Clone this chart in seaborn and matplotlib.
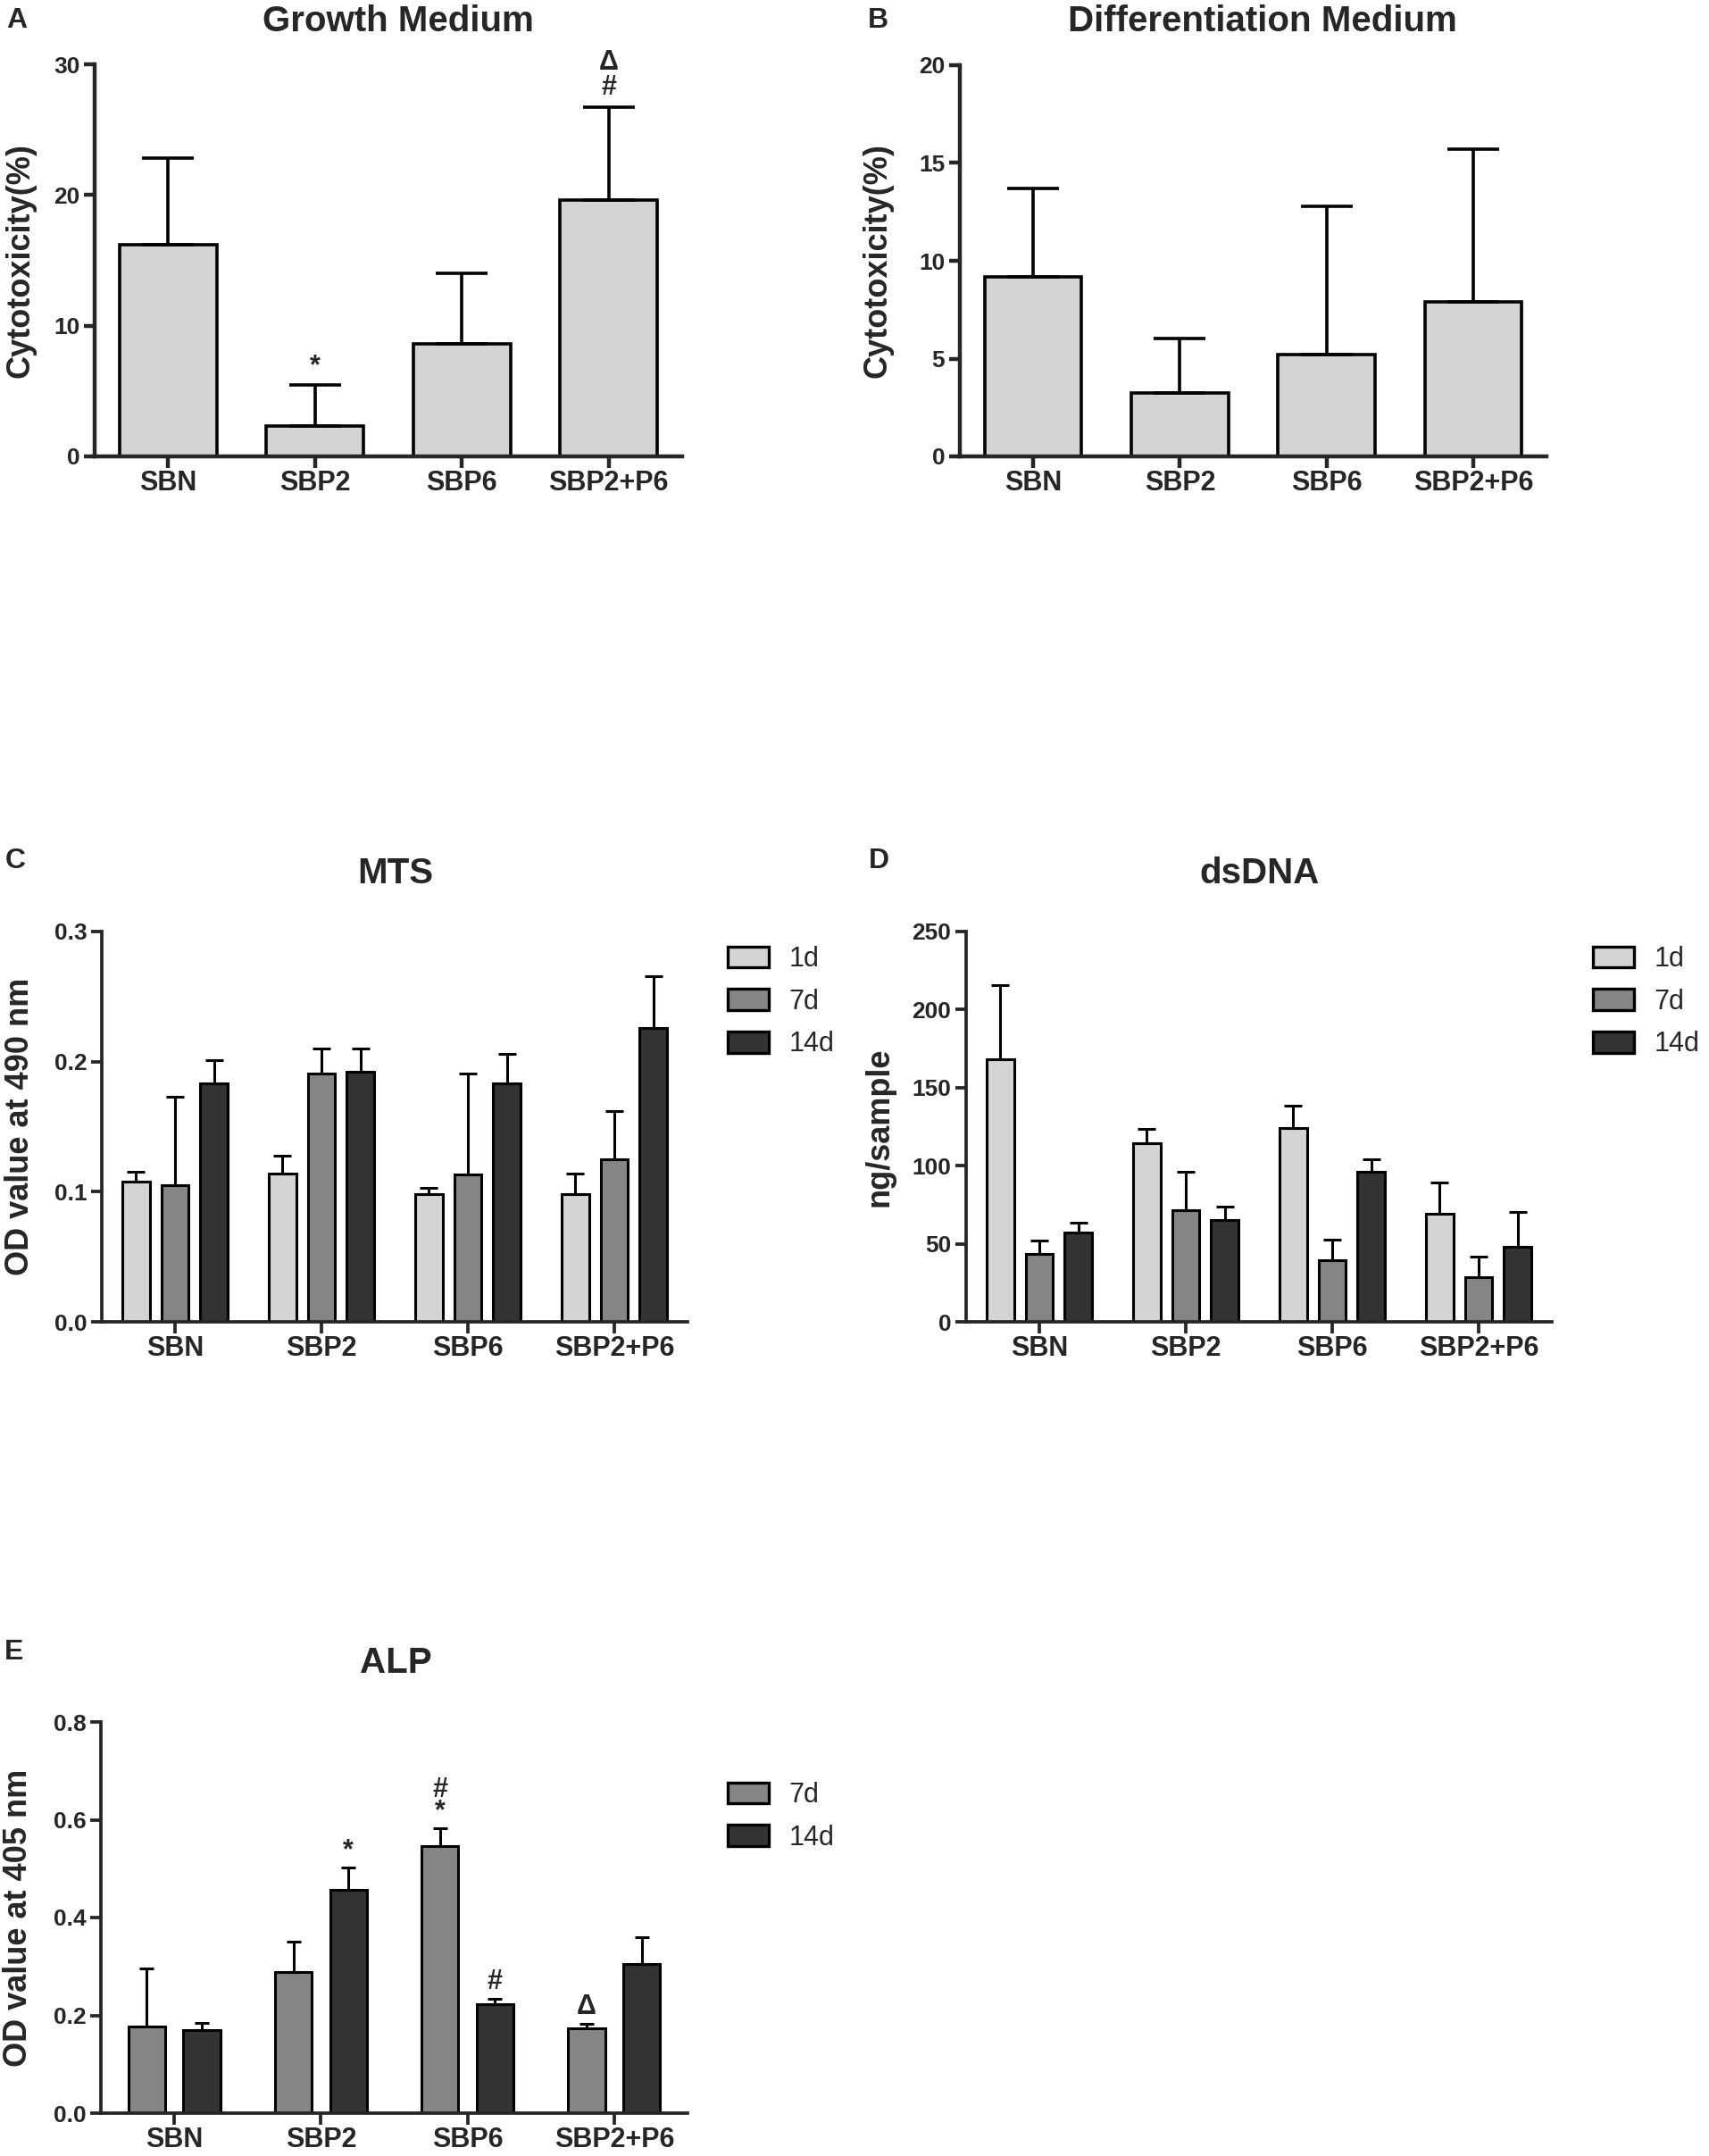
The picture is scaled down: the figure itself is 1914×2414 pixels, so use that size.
import matplotlib
matplotlib.use('Agg')
import matplotlib.pyplot as plt
import matplotlib.transforms as mtransforms
from matplotlib.patches import Patch
import numpy as np
import pandas as pd
import seaborn as sns

groups = ['SBN', 'SBP2', 'SBP6', 'SBP2+P6']

# A / B: cytotoxicity (%)
growth_mean = [16.2, 2.3, 8.6, 19.6]
growth_sd = [6.6, 3.2, 5.4, 7.1]
diff_mean = [9.2, 3.25, 5.2, 7.9]
diff_sd = [4.5, 2.8, 7.6, 7.8]

# C: MTS, OD at 490 nm
mts_days = ['1d', '7d', '14d']
mts_mean = {'1d': [0.108, 0.114, 0.098, 0.098],
            '7d': [0.105, 0.191, 0.113, 0.125],
            '14d': [0.183, 0.192, 0.183, 0.226]}
mts_sd = {'1d': [0.007, 0.014, 0.005, 0.016],
          '7d': [0.068, 0.019, 0.078, 0.037],
          '14d': [0.018, 0.018, 0.023, 0.040]}

# D: dsDNA, ng/sample
dna_days = ['1d', '7d', '14d']
dna_mean = {'1d': [168.4, 114.5, 124.3, 69.4],
            '7d': [43.2, 71.6, 39.6, 28.4],
            '14d': [57.3, 65.1, 96.1, 47.9]}
dna_sd = {'1d': [47.5, 8.8, 14.1, 20.1],
          '7d': [8.6, 24.5, 12.9, 13.3],
          '14d': [6.4, 8.6, 8.1, 22.2]}

# E: ALP, OD at 405 nm
alp_days = ['7d', '14d']
alp_mean = {'7d': [0.178, 0.288, 0.546, 0.174],
            '14d': [0.170, 0.457, 0.223, 0.305]}
alp_sd = {'7d': [0.118, 0.063, 0.036, 0.009],
          '14d': [0.015, 0.045, 0.010, 0.054]}

# significance marks: (group, day, symbols from bottom to top)
growth_marks = [('SBP2', None, ['*']), ('SBP2+P6', None, ['#', 'Δ'])]
alp_marks = [('SBP2', '14d', ['*']), ('SBP6', '7d', ['*', '#']),
             ('SBP6', '14d', ['#']), ('SBP2+P6', '7d', ['Δ'])]

day_colors = {'1d': '#d4d4d4', '7d': '#858585', '14d': '#333333'}

sns.set_style('ticks')
plt.rcParams['font.family'] = ['Liberation Sans', 'DejaVu Sans']
plt.rcParams['font.weight'] = 'bold'

W, H = 1915, 2414
fig = plt.figure(figsize=(W / 100, H / 100), dpi=100)


def make_axes(l, r, t, b):
    return fig.add_axes([l / W, 1 - b / H, (r - l) / W, (b - t) / H])


def long_df(means, sds, days):
    rows = []
    for d in days:
        for g, m, s in zip(groups, means[d], sds[d]):
            rows.append({'group': g, 'day': d, 'mean': m, 'sd': s})
    return pd.DataFrame(rows)


def add_errors(ax, sds, lw, capsize):
    for p, sd in zip(ax.patches, sds):
        x = p.get_x() + p.get_width() / 2
        ax.errorbar(x, p.get_height(), yerr=[[0], [sd]], fmt='none', ecolor='black',
                    elinewidth=lw, capsize=capsize, capthick=lw, zorder=1)


def add_marks(ax, x, top, syms, offset, step, spacing):
    # one text per stack, symbols listed bottom to top
    y = top + offset + step * (len(syms) - 1) / 2
    ax.text(x, y, '\n'.join(reversed(syms)), ha='center', va='center', fontsize=22,
            linespacing=spacing, clip_on=False)


def style(ax, ymax, step, fmt, ylabel, lw, label_x):
    ax.set_xlim(-0.5, 3.5)
    ax.set_ylim(0, ymax)
    ticks = np.arange(0, ymax + step / 2, step)
    ax.set_yticks(ticks)
    ax.set_yticklabels([fmt.format(v) for v in ticks])
    sns.despine(ax=ax)
    for s in ['left', 'bottom']:
        ax.spines[s].set_linewidth(lw)
    ax.tick_params(axis='y', width=lw, length=9, pad=3, labelsize=19)
    ax.tick_params(axis='x', width=lw, length=9, pad=2, labelsize=22)
    ax.set_xlabel('')
    ax.set_ylabel(ylabel, fontsize=26, fontweight='bold')
    tr = mtransforms.blended_transform_factory(fig.transFigure, ax.transAxes)
    ax.yaxis.set_label_coords(label_x / W, 0.5, transform=tr)


def head(letter, lx, ly, title, tx, ty):
    fig.text(lx / W, 1 - ly / H, letter, fontsize=23, fontweight='bold', ha='center', va='center')
    fig.text(tx / W, 1 - ty / H, title, fontsize=29, fontweight='bold', ha='center', va='center')


def legend(ax, days, x, y):
    handles = [Patch(facecolor=day_colors[d], edgecolor='black', linewidth=2.4) for d in days]
    ax.legend(handles, days, loc='upper left', bbox_to_anchor=(x / W, 1 - y / H),
              bbox_transform=fig.transFigure, frameon=False, borderpad=0, borderaxespad=0,
              handlelength=1.5, handleheight=0.8, handletextpad=0.75, labelspacing=0.58,
              prop={'weight': 'normal', 'size': 22})


# ---- A: growth medium ----
axA = make_axes(106, 764, 72, 511)
dfA = pd.DataFrame({'group': groups, 'mean': growth_mean})
sns.barplot(data=dfA, x='group', y='mean', color='#d4d4d4', width=0.66,
            edgecolor='black', linewidth=2.6, errorbar=None, ax=axA)
add_errors(axA, growth_sd, 2.6, 21)
style(axA, 30, 10, '{:.0f}', 'Cytotoxicity(%)', 3.2, 41)
for g, _, syms in growth_marks:
    i = groups.index(g)
    add_marks(axA, i, growth_mean[i] + growth_sd[i], syms, 1.4, 2.2, 0.93)
head('A', 19, 23, 'Growth Medium', 446, 24)

# ---- B: differentiation medium ----
axB = make_axes(1075, 1732, 73, 511)
dfB = pd.DataFrame({'group': groups, 'mean': diff_mean})
sns.barplot(data=dfB, x='group', y='mean', color='#d4d4d4', width=0.66,
            edgecolor='black', linewidth=2.6, errorbar=None, ax=axB)
add_errors(axB, diff_sd, 2.6, 21)
style(axB, 20, 5, '{:.0f}', 'Cytotoxicity(%)', 3.2, 1001)
head('B', 983, 23, 'Differentiation Medium', 1414, 24)

# ---- C: MTS ----
axC = make_axes(114, 770, 1043, 1480)
dfC = long_df(mts_mean, mts_sd, mts_days)
sns.barplot(data=dfC, x='group', y='mean', hue='day', hue_order=mts_days, palette=day_colors,
            width=0.8, gap=0.3, edgecolor='black', linewidth=2.2, errorbar=None, legend=False, ax=axC)
add_errors(axC, dfC['sd'], 2.2, 7)
style(axC, 0.3, 0.1, '{:.1f}', 'OD value at 490 nm', 2.7, 40)
legend(axC, mts_days, 815, 1059)
head('C', 17, 964, 'MTS', 443, 978)

# ---- D: dsDNA ----
axD = make_axes(1082, 1738, 1043, 1480)
dfD = long_df(dna_mean, dna_sd, dna_days)
sns.barplot(data=dfD, x='group', y='mean', hue='day', hue_order=dna_days, palette=day_colors,
            width=0.8, gap=0.3, edgecolor='black', linewidth=2.2, errorbar=None, legend=False, ax=axD)
add_errors(axD, dfD['sd'], 2.2, 7)
style(axD, 250, 50, '{:.0f}', 'ng/sample', 2.7, 1003)
legend(axD, dna_days, 1784, 1059)
head('D', 984, 964, 'dsDNA', 1411, 978)

# ---- E: ALP ----
axE = make_axes(113, 770, 1928, 2366)
dfE = long_df(alp_mean, alp_sd, alp_days)
sns.barplot(data=dfE, x='group', y='mean', hue='day', hue_order=alp_days, palette=day_colors,
            width=0.75, gap=0.33, edgecolor='black', linewidth=2.2, errorbar=None, legend=False, ax=axE)
add_errors(axE, dfE['sd'], 2.2, 6)
style(axE, 0.8, 0.2, '{:.1f}', 'OD value at 405 nm', 2.7, 38)
legend(axE, alp_days, 815, 1995)
for g, d, syms in alp_marks:
    i = groups.index(g)
    j = alp_days.index(d)
    x = i + (j - 0.5) * 0.375
    add_marks(axE, x, alp_mean[d][i] + alp_sd[d][i], syms, 0.035, 0.045, 0.75)
head('E', 16, 1850, 'ALP', 443, 1862)

fig.savefig('out.png', dpi=100, facecolor='white')
